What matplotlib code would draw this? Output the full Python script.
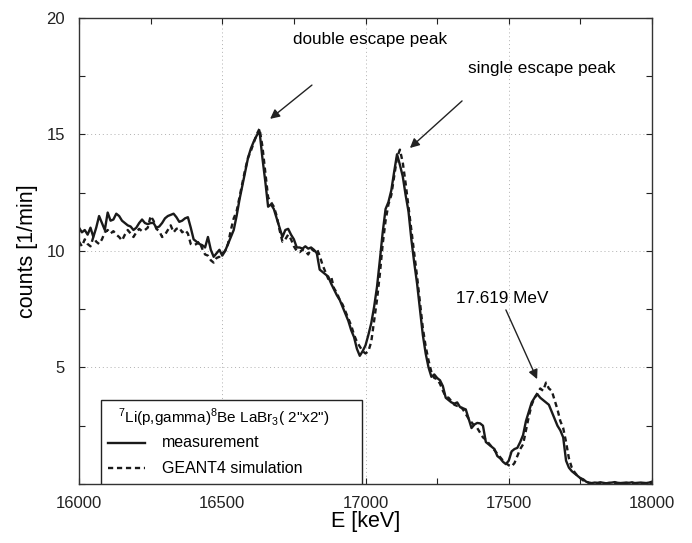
import numpy as np
import matplotlib.pyplot as plt
from matplotlib.ticker import MultipleLocator
from matplotlib.patches import Rectangle

plt.rcParams['font.family'] = ['Liberation Sans', 'DejaVu Sans']
plt.rcParams['mathtext.fontset'] = 'custom'
plt.rcParams['mathtext.rm'] = 'Liberation Sans'

# energy bins (keV), 10 keV steps
energy = np.arange(16000, 18001, 10)

measurement = [
    11.0, 10.8, 10.9, 10.7, 11.0, 10.6, 11.0, 11.5, 11.2, 10.9,
    11.65, 11.3, 11.35, 11.6, 11.5, 11.3, 11.2, 11.1, 11.05, 10.9,
    11.0, 11.2, 11.35, 11.2, 11.15, 11.2, 11.2, 11.0, 11.05, 11.2,
    11.4, 11.5, 11.55, 11.6, 11.45, 11.25, 11.3, 11.4, 11.45, 11.0,
    10.5, 10.4, 10.3, 10.25, 10.15, 10.6, 10.05, 9.75, 9.9, 10.05,
    9.8, 10.0, 10.3, 10.6, 10.9, 11.5, 12.2, 12.8, 13.4, 14.0,
    14.4, 14.7, 14.95, 15.15, 14.0, 13.0, 11.9, 12.0, 11.8, 11.4,
    11.0, 10.6, 10.9, 10.95, 10.7, 10.5, 10.15, 10.15, 10.1, 10.2,
    10.1, 10.15, 10.05, 9.9, 9.2, 9.1, 9.0, 8.9, 8.6, 8.35,
    8.1, 7.9, 7.6, 7.3, 7.0, 6.6, 6.3, 5.8, 5.5, 5.7,
    5.95, 6.4, 6.9, 7.6, 8.45, 9.6, 10.8, 11.8, 12.1, 12.6,
    13.4, 14.15, 13.7, 13.2, 12.4, 11.7, 10.5, 9.5, 8.6, 7.5,
    6.4, 5.6, 5.0, 4.6, 4.7, 4.55, 4.45, 4.2, 3.7, 3.6,
    3.5, 3.45, 3.5, 3.3, 3.25, 3.2, 2.8, 2.4, 2.55, 2.62,
    2.6, 2.5, 1.8, 1.7, 1.6, 1.5, 1.2, 1.1, 0.95, 0.85,
    1.0, 1.4, 1.5, 1.55, 1.8, 2.1, 2.7, 3.1, 3.5, 3.7,
    3.85, 3.7, 3.6, 3.5, 3.4, 3.1, 2.8, 2.5, 2.3, 2.0,
    1.0, 0.7, 0.55, 0.45, 0.35, 0.25, 0.2, 0.1, 0.05, 0.04,
    0.06, 0.05, 0.07, 0.05, 0.03, 0.05, 0.06, 0.08, 0.05, 0.04,
    0.05, 0.06, 0.05, 0.07, 0.04, 0.05, 0.06, 0.05, 0.04, 0.06,
    0.1,
]

simulation = [
    10.4, 10.2, 10.5, 10.3, 10.2, 10.6, 10.4, 10.3, 10.5, 10.8,
    10.9, 10.75, 10.85, 10.7, 10.6, 10.45, 10.7, 10.9, 10.75, 10.6,
    10.8, 10.95, 10.85, 10.9, 11.0, 11.5, 11.3, 10.95, 10.85, 10.6,
    10.7, 10.9, 11.1, 10.8, 10.95, 11.0, 10.8, 10.9, 10.75, 10.3,
    10.25, 10.3, 10.4, 10.1, 9.85, 9.8, 9.6, 9.5, 9.7, 9.75,
    9.9, 10.0, 10.3, 10.9, 11.4, 11.7, 12.3, 12.9, 13.5, 14.0,
    14.3, 14.65, 15.0, 15.25, 14.5, 13.4, 12.3, 12.1, 11.9, 11.5,
    10.9, 10.4, 10.5, 10.7, 10.5, 10.2, 10.0, 9.95, 10.05, 10.0,
    9.85, 10.1, 10.0, 10.1, 9.8, 9.4, 9.1, 8.8, 8.9, 8.4,
    8.2, 7.9, 7.7, 7.4, 7.1, 6.8, 6.4, 6.1, 5.9, 5.7,
    5.6, 5.7, 6.1, 7.0, 7.9, 9.0, 10.3, 11.3, 12.0, 12.4,
    13.2, 14.0, 14.35, 13.8, 12.9, 11.9, 10.9, 9.9, 8.9, 7.8,
    6.7, 5.9, 5.3, 4.8, 4.55, 4.5, 4.3, 4.0, 3.75, 3.7,
    3.55, 3.4, 3.35, 3.35, 3.2, 3.0, 2.8, 2.65, 2.5, 2.4,
    2.2, 2.0, 1.9, 1.75, 1.6, 1.45, 1.3, 1.15, 1.0, 0.9,
    0.8, 0.75, 0.9, 1.2, 1.5, 1.7, 2.3, 2.9, 3.4, 3.7,
    3.9, 4.1, 4.0, 4.35, 4.1, 4.0, 3.6, 3.2, 2.7, 2.4,
    1.8, 1.1, 0.7, 0.5, 0.35, 0.25, 0.15, 0.1, 0.05, 0.03,
    0.04, 0.03, 0.05, 0.03, 0.02, 0.04, 0.03, 0.05, 0.03, 0.02,
    0.03, 0.04, 0.03, 0.05, 0.02, 0.03, 0.04, 0.03, 0.02, 0.03,
    0.05,
]

legend_title = '$^{7}$Li(p,gamma)$^{8}$Be LaBr$_{3}$( 2"x2")'
series_labels = ['measurement', 'GEANT4 simulation']

dash = (0, (2.2, 1.6))
ink = '#1a1a1a'

fig = plt.figure(figsize=(6.92, 5.43), dpi=100)
ax = fig.add_axes([0.1142, 0.1087, 0.828, 0.8582])

ax.plot(energy, measurement, color=ink, lw=1.7)
ax.plot(energy, simulation, color=ink, lw=1.7, ls=dash)

ax.set_xlim(16000, 18000)
ax.set_ylim(0, 20)
ax.set_xticks([16000, 16500, 17000, 17500, 18000])
ax.set_yticks([5, 10, 15, 20])
ax.xaxis.set_minor_locator(MultipleLocator(250))
ax.yaxis.set_minor_locator(MultipleLocator(2.5))
ax.tick_params(which='both', direction='in', top=True, right=True,
               length=4, width=0.8, labelsize=12, colors='#222222')
ax.tick_params(axis='y', pad=10)
ax.tick_params(axis='x', pad=9)
ax.grid(which='major', ls=(0, (1, 3)), color='#b0b0b0', lw=0.7)
for s in ax.spines.values():
    s.set_linewidth(1.0)
    s.set_color('#333333')

ax.set_xlabel('E [keV]', fontsize=15.5, labelpad=0)
ax.set_ylabel('counts [1/min]', fontsize=15.5, labelpad=6)

# annotations
arrow = dict(arrowstyle='-|>', color='#222222', lw=1.0, mutation_scale=14,
             shrinkA=0, shrinkB=0)
ax.text(17016, 19.06, 'double escape peak', fontsize=12.3, ha='center', va='center')
ax.annotate('', xy=(16667, 15.67), xytext=(16813, 17.12), arrowprops=arrow)
ax.text(17616, 17.85, 'single escape peak', fontsize=12.3, ha='center', va='center')
ax.annotate('', xy=(17155, 14.42), xytext=(17337, 16.44), arrowprops=arrow)
ax.text(17476, 7.98, '17.619 MeV', fontsize=12.3, ha='center', va='center')
ax.annotate('', xy=(17599, 4.5), xytext=(17490, 7.47), arrowprops=arrow)

# legend box, drawn by hand in axes coordinates
tr = ax.transAxes
ax.add_patch(Rectangle((0.0384, 0.0), 0.4556, 0.180, transform=tr,
                       facecolor='white', edgecolor='#222222', lw=1.0, zorder=5))
ax.text(0.068, 0.142, legend_title, transform=tr, fontsize=11,
        va='center', ha='left', zorder=6)
for yy, lab, ls in zip([0.088, 0.034], series_labels, ['-', dash]):
    ax.plot([0.050, 0.115], [yy, yy], transform=tr, color=ink, lw=1.7, ls=ls,
            zorder=6)
    ax.text(0.145, yy, lab, transform=tr, fontsize=11.5, va='center',
            ha='left', zorder=6)

fig.savefig('out.png', dpi=100)
